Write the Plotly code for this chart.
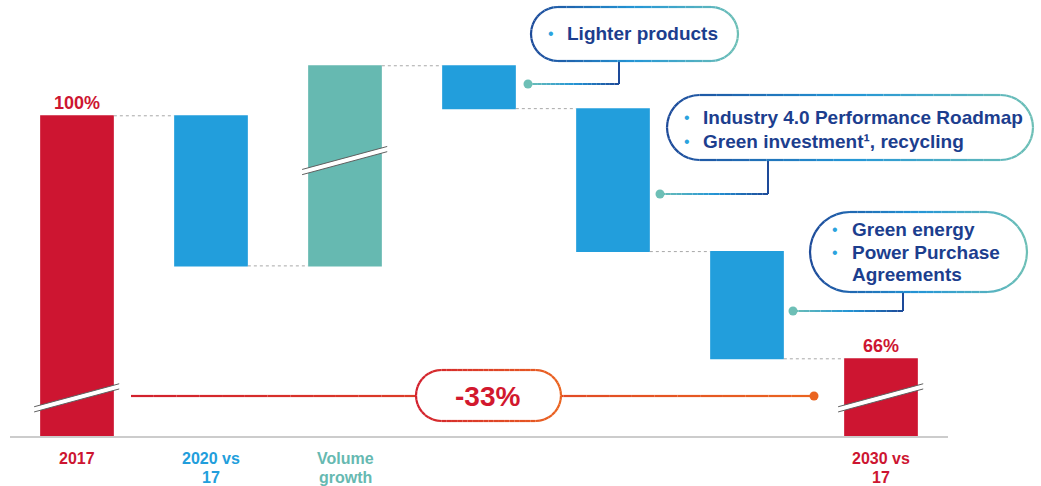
import math
import plotly.graph_objects as go

# ── Data ──
CATEGORIES = ["2017", "2020 vs 17", "Volume growth", "Lighter products",
              "Industry 4.0", "Green energy", "2030 vs 17"]
MEASURES = ["absolute", "relative", "relative", "relative", "relative", "relative", "total"]
VALUES = [100, -21, 28, -6, -20, -15, 0]
TICK_LABELS = ["2017", "2020 vs<br>17", "Volume<br>growth", "", "", "", "2030 vs<br>17"]
END_LABELS = {"2017": ("100%", 100), "2030 vs 17": ("66%", 66)}
CHANGE_LABEL = "-33%"
CALLOUT_LINES = [
    [("Lighter products", True)],
    [("Industry 4.0 Performance Roadmap", True), ("Green investment¹, recycling", True)],
    [("Green energy", True), ("Power Purchase", True), ("Agreements", False)],
]
BREAK_BARS = ["2017", "Volume growth", "2030 vs 17"]
BREAK_LEVELS = [60.9, 94.1, 60.9]

# ── Style ──
RED = "#CD1531"
BLUE = "#229EDC"
TEAL = "#66B9B1"
NAVY = "#1C3E8E"
BULLET = "#2BA3DE"
FONT = "Liberation Sans, Arial, sans-serif"

W, H = 1041, 486
L, R, T, B = 10, 93, 0, 50
PW, PH = W - L - R, H - T - B
Y_RANGE = [55.2, 116.2]
Y_PER_PX = (Y_RANGE[1] - Y_RANGE[0]) / PH


def px(x):
    return (x - L) / PW


def py(y):
    return (H - B - y) / PH


def hex2rgb(c):
    c = c.lstrip("#")
    return [int(c[i:i + 2], 16) for i in (0, 2, 4)]


def mix(stops, t):
    t = min(max(t, 0.0), 1.0)
    for (t0, c0), (t1, c1) in zip(stops, stops[1:]):
        if t <= t1:
            f = (t - t0) / (t1 - t0) if t1 > t0 else 0
            rgb = [round(a + (b - a) * f) for a, b in zip(hex2rgb(c0), hex2rgb(c1))]
            return "rgb(%d,%d,%d)" % tuple(rgb)
    return stops[-1][1]


def stadium(x0, y0, x1, y1, n=18):
    r = (y1 - y0) / 2
    cy = (y0 + y1) / 2
    pts = []
    for i in range(n + 1):
        pts.append((x0 + r + (x1 - x0 - 2 * r) * i / n, y0))
    for i in range(1, n + 1):
        a = -math.pi / 2 + math.pi * i / n
        pts.append((x1 - r + r * math.cos(a), cy + r * math.sin(a)))
    for i in range(1, n + 1):
        pts.append((x1 - r - (x1 - x0 - 2 * r) * i / n, y1))
    for i in range(1, n + 1):
        a = math.pi / 2 + math.pi * i / n
        pts.append((x0 + r + r * math.cos(a), cy + r * math.sin(a)))
    return pts


def gradient_polyline(pts, stops, xa, xb, width):
    out = []
    for (x0, y0), (x1, y1) in zip(pts, pts[1:]):
        t = ((x0 + x1) / 2 - xa) / (xb - xa) if xb != xa else 0
        out.append(dict(type="line", xref="paper", yref="paper",
                        x0=px(x0), y0=py(y0), x1=px(x1), y1=py(y1),
                        line=dict(color=mix(stops, t), width=width)))
    return out


def pill(x0, y0, x1, y1, stops, width=2.2):
    pts = stadium(x0, y0, x1, y1)
    path = "M " + " L ".join("%.5f,%.5f" % (px(a), py(b)) for a, b in pts) + " Z"
    fill = dict(type="path", xref="paper", yref="paper", path=path,
                fillcolor="white", line=dict(width=0))
    return [fill] + gradient_polyline(pts, stops, x0, x1, width)


def dot(x, y, color, r=4.5):
    return dict(type="circle", xref="paper", yref="paper",
                x0=px(x - r), x1=px(x + r), y0=py(y - r), y1=py(y + r),
                fillcolor=color, line=dict(width=0))


fig = go.Figure(go.Waterfall(
    x=CATEGORIES,
    y=VALUES,
    measure=MEASURES,
    width=0.55,
    textinfo="none",
    hoverinfo="skip",
    increasing=dict(marker=dict(color=TEAL, line=dict(width=0))),
    decreasing=dict(marker=dict(color=BLUE, line=dict(width=0))),
    totals=dict(marker=dict(color=RED, line=dict(width=0))),
    connector=dict(line=dict(color="#A8A8A8", width=1, dash="dot")),
))

shapes = []
annotations = []

# axis breaks
for cat, level in zip(BREAK_BARS, BREAK_LEVELS):
    i = CATEGORIES.index(cat)
    half = 11.5 * Y_PER_PX
    gap = 2.6 * Y_PER_PX
    shapes.append(dict(type="line", xref="x", yref="y",
                       x0=i - 0.32, x1=i + 0.315, y0=level - half - gap, y1=level + half - gap,
                       line=dict(color="white", width=5)))
    for off in (0, -2 * gap):
        shapes.append(dict(type="line", xref="x", yref="y",
                           x0=i - 0.32, x1=i + 0.315, y0=level - half + off, y1=level + half + off,
                           line=dict(color="#606060", width=1)))

# -33% line with pill
RED_STOPS = [(0, "#D2202D"), (1, "#EA6420")]
line_pts = [(131 + (814 - 131) * k / 30, 396) for k in range(31)]
shapes += gradient_polyline(line_pts, RED_STOPS, 131, 814, 2.2)
shapes.append(dot(814, 396, "#EA6420"))
shapes += pill(416, 370, 561, 421, RED_STOPS, 2.2)
annotations.append(dict(xref="paper", yref="paper", x=px(488), y=py(396),
                        text=CHANGE_LABEL, showarrow=False, xanchor="center", yanchor="middle",
                        font=dict(family=FONT, size=28, color="#D2182E", weight="bold")))

# callouts
BLUE_STOPS = [(0, "#1D4A99"), (0.5, "#2496D6"), (1, "#6DBFB6")]
CONN_STOPS = [(0, "#6DBFB6"), (0.5, "#2496D6"), (1, "#1D4A99")]
CALLOUT_BOXES = [
    dict(box=(531, 7, 738, 61), stem=619, elbow=84, end=528, bullet=551, text=565, ys=[34]),
    dict(box=(667, 95, 1033, 160), stem=768, elbow=194, end=660, bullet=687, text=701, ys=[117, 141]),
    dict(box=(810, 212, 1027, 292), stem=903, elbow=311, end=793, bullet=835, text=850, ys=[229, 252, 274]),
]
for spec, lines in zip(CALLOUT_BOXES, CALLOUT_LINES):
    x0, y0, x1, y1 = spec["box"]
    shapes.append(dict(type="line", xref="paper", yref="paper",
                       x0=px(spec["stem"]), x1=px(spec["stem"]), y0=py(y1), y1=py(spec["elbow"]),
                       line=dict(color="#1D4A99", width=2)))
    hpts = [(spec["end"] + (spec["stem"] - spec["end"]) * k / 20, spec["elbow"]) for k in range(21)]
    shapes += gradient_polyline(hpts, CONN_STOPS, spec["end"], spec["stem"], 2)
    shapes.append(dot(spec["end"], spec["elbow"], "#6DBFB6"))
    shapes += pill(x0, y0, x1, y1, BLUE_STOPS, 2.2)
    for (txt, has_bullet), yy in zip(lines, spec["ys"]):
        if has_bullet:
            annotations.append(dict(xref="paper", yref="paper", x=px(spec["bullet"]), y=py(yy),
                                    text="•", showarrow=False, xanchor="center", yanchor="middle",
                                    font=dict(family=FONT, size=16, color=BULLET)))
        annotations.append(dict(xref="paper", yref="paper", x=px(spec["text"]), y=py(yy),
                                text=txt, showarrow=False, xanchor="left", yanchor="middle",
                                font=dict(family=FONT, size=19, color=NAVY, weight="bold")))

# end value labels (x given as category index so "2017" is not read as a number)
for cat, (txt, val) in END_LABELS.items():
    annotations.append(dict(xref="x", yref="y", x=CATEGORIES.index(cat), y=val, text=txt,
                            showarrow=False, xanchor="center", yanchor="bottom", yshift=1,
                            font=dict(family=FONT, size=18, color=RED, weight="bold")))

# category labels
TICK_COLORS = [RED, BLUE, TEAL, NAVY, NAVY, NAVY, RED]
for i, (lab, col) in enumerate(zip(TICK_LABELS, TICK_COLORS)):
    for j, part in enumerate(lab.split("<br>") if lab else []):
        annotations.append(dict(xref="x", yref="paper", x=i, y=py(458 + 19 * j),
                                text=part, showarrow=False, xanchor="center", yanchor="middle",
                                font=dict(family=FONT, size=16, color=col, weight="bold")))

fig.update_layout(
    width=W, height=H,
    margin=dict(l=L, r=R, t=T, b=B, pad=0),
    paper_bgcolor="white", plot_bgcolor="white",
    showlegend=False,
    shapes=shapes,
    annotations=annotations,
    xaxis=dict(type="category", range=[-0.5, 6.5], showline=True, linecolor="#CCCCCC",
               linewidth=1.5, showgrid=False, zeroline=False, showticklabels=False,
               ticks="", fixedrange=True),
    yaxis=dict(range=Y_RANGE, visible=False, showgrid=False, zeroline=False, fixedrange=True),
)

fig.write_html("out.html", config={"displayModeBar": False},
               post_script="document.body.style.margin='0px';")
